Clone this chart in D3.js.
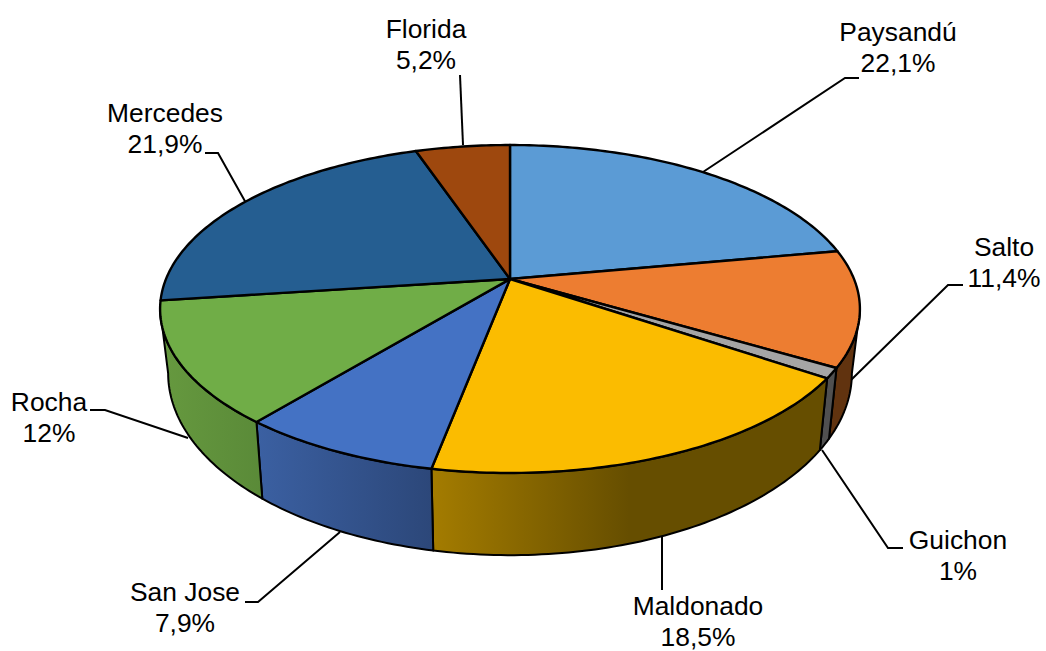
<!DOCTYPE html>
<html><head><meta charset="utf-8">
<script src="https://cdn.jsdelivr.net/npm/d3@7"></script>
<style>html,body{margin:0;background:#fff}svg{display:block}text{font-family:"Liberation Sans",Arial,sans-serif;font-size:26.4px;fill:#000}</style>
</head><body><svg id="c" width="1046" height="651"></svg>
<script>
const categories = ["Paysandú","Salto","Guichon","Maldonado","San Jose","Rocha","Mercedes","Florida"];
const values = [22.1,11.4,1,18.5,7.9,12,21.9,5.2];
const valueLabels = ["22,1%","11,4%","1%","18,5%","7,9%","12%","21,9%","5,2%"];
const topColors = ["#5B9BD5","#ED7D31","#A5A5A5","#FBBC00","#4472C4","#70AD47","#255E91","#9E480E"];
// wall gradient stops, left to right
const wallColors = [["#5B9BD5","#5B9BD5"],["#61330f","#61330f"],["#505050","#505050"],["#a47c00","#664e00","#664e00"],["#3b60a2","#2c4779"],["#66993f","#5a8a38"],["#255E91","#255E91"],["#9E480E","#9E480E"]];
// label layout: [text centre x, first baseline y], leader polyline
const labelPos = [[898,41],[1004,256],[958,549],[698,615],[185,601],[49,411],[165,122],[426,38]];
const leaders = [
 [[703,172],[845,78],[859,78]],
 [[851,380],[948,285],[963,285]],
 [[822,450],[888,548],[903,548]],
 [[662,537],[662,590]],
 [[340,532],[258,602],[245,602]],
 [[188,438],[105,410],[90,410]],
 [[246,203],[218,153],[205,153]],
 [[463,145],[460,75]]
];
const svg = d3.select("#c"), defs = svg.append("defs");
const cx=510, cy=279, a=344, b=158.5, k=0.183;
const topPt = t => { const u=Math.sin(t), v=Math.cos(t), d=1+k*v; return [cx+a*u/d, cy-b*v/d]; };
const botPt = t => { const [x,y]=topPt(t); return [cx+0.977*(x-cx), 340+1.109*(y-cy)]; };
const arcs = d3.pie().sort(null).value(d=>d)(values);
const line = d3.line();
const sample = (t0,t1,f) => { const n=Math.max(2,Math.ceil(Math.abs(t1-t0)*60)); return d3.range(n+1).map(i=>f(t0+(t1-t0)*i/n)); };
const tR = Math.acos(-k), tL = 2*Math.PI-tR;

svg.append("g").selectAll("path").data(leaders).join("path")
  .attr("d",d=>line(d)).attr("fill","none").attr("stroke","#000").attr("stroke-width",2);

const walls = svg.append("g");
arcs.forEach((d,i)=>{
  const t0=Math.max(d.startAngle,tR), t1=Math.min(d.endAngle,tL);
  if(t0>=t1) return;
  const pts=[...sample(t0,t1,topPt),...sample(t1,t0,botPt)];
  const xs=d3.extent(pts,p=>p[0]);
  const g=defs.append("linearGradient").attr("id","w"+i).attr("gradientUnits","userSpaceOnUse")
    .attr("x1",xs[0]).attr("x2",xs[1]).attr("y1",0).attr("y2",0);
  const cols = wallColors[i];
  cols.forEach((c,j)=>g.append("stop").attr("offset",j/(cols.length-1)).attr("stop-color",c));
  walls.append("path").attr("d",line(pts)+"Z").attr("fill",`url(#w${i})`).attr("stroke","#000").attr("stroke-width",2).attr("stroke-linejoin","round");
});

svg.append("g").selectAll("path").data(arcs).join("path")
  .attr("d",d=>line([[cx,cy],...sample(d.startAngle,d.endAngle,topPt)])+"Z")
  .attr("fill",(d,i)=>topColors[i]).attr("stroke","#000").attr("stroke-width",2.4).attr("stroke-linejoin","round");

const lab = svg.append("g").selectAll("text").data(categories).join("text")
  .attr("text-anchor","middle").attr("x",(d,i)=>labelPos[i][0]).attr("y",(d,i)=>labelPos[i][1]);
lab.append("tspan").text(d=>d);
lab.append("tspan").attr("x",(d,i)=>labelPos[i][0]).attr("dy",31).text((d,i)=>valueLabels[i]);
</script></body></html>
